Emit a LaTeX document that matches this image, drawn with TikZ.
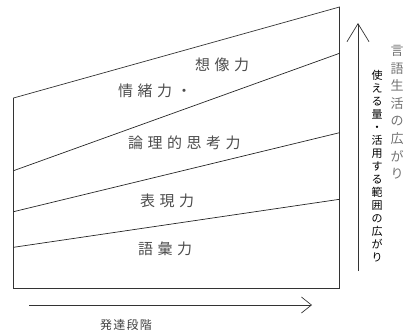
\documentclass[tikz,border=0pt]{standalone}
\usepackage{fontspec}
\newfontfamily\jp{Noto Sans CJK JP}
\newfontfamily\jpsp[LetterSpace=30]{Noto Sans CJK JP}
\newfontfamily\jpbot[LetterSpace=10]{Noto Sans CJK JP}
\usetikzlibrary{arrows.meta}
\begin{document}
\begin{tikzpicture}[x=1pt,y=-1pt,
  frame/.style={draw=black!80,line width=0.7pt},
  layer/.style={draw=black!85,line width=0.7pt},
  lab/.style={anchor=west,inner sep=0pt,text=black!70,font=\jpsp\fontsize{15}{17}\selectfont},
  axis/.style={draw=black!80,line width=0.7pt},
  vcol/.style={anchor=north,inner sep=0pt,align=center}]
\useasboundingbox (0,0) rectangle (406,335);
% box
\coordinate (tl) at (13.5,98);
\coordinate (tr) at (339.5,7);
\coordinate (br) at (339.5,288.5);
\coordinate (bl) at (13.5,288.5);
\draw[frame] (tl) -- (tr) -- (br) -- (bl) -- cycle;
% layer lines
\coordinate (l1a) at (13.5,170.7); \coordinate (l1b) at (339.5,53.3);
\coordinate (l2a) at (13.5,211.7); \coordinate (l2b) at (339.5,132.7);
\coordinate (l3a) at (13.5,247.3); \coordinate (l3b) at (339.5,199.3);
\draw[layer] (l1a) -- (l1b);
\draw[layer] (l2a) -- (l2b);
\draw[layer] (l3a) -- (l3b);
% labels
\node[lab] (imag) at (195,65) {想像力};
\node[lab] (emot) at (118,90.7) {情緒力・};
\node[lab] (logic) at (128,143) {論理的思考力};
\node[lab] (expr) at (140,201) {表現力};
\node[lab] (vocab) at (138,249) {語彙力};
% bottom arrow
\coordinate (ba) at (29,305);
\coordinate (bb) at (312,305);
\draw[axis,-{Straight Barb[length=10pt,width=16pt]}] (ba) -- (bb);
\node[inner sep=0pt,anchor=west,text=black!75,font=\jpbot\fontsize{12}{14}\selectfont] (dev) at (100,325) {発達段階};
% vertical arrow
\coordinate (va) at (358,271);
\coordinate (vb) at (358,23);
\draw[axis,-{Straight Barb[length=18pt,width=22pt]}] (va) -- (vb);
\node[vcol,text=black!55,font=\jp\fontsize{13}{17.6}\selectfont] (life) at (397,45)
  {言\\語\\生\\活\\の\\広\\が\\り};
\node[vcol,text=black,font=\jp\fontsize{11}{13}\selectfont] (range) at (377,70)
  {使\\え\\る\\量\\・\\活\\用\\す\\る\\範\\囲\\の\\広\\が\\り};
\end{tikzpicture}
\end{document}
